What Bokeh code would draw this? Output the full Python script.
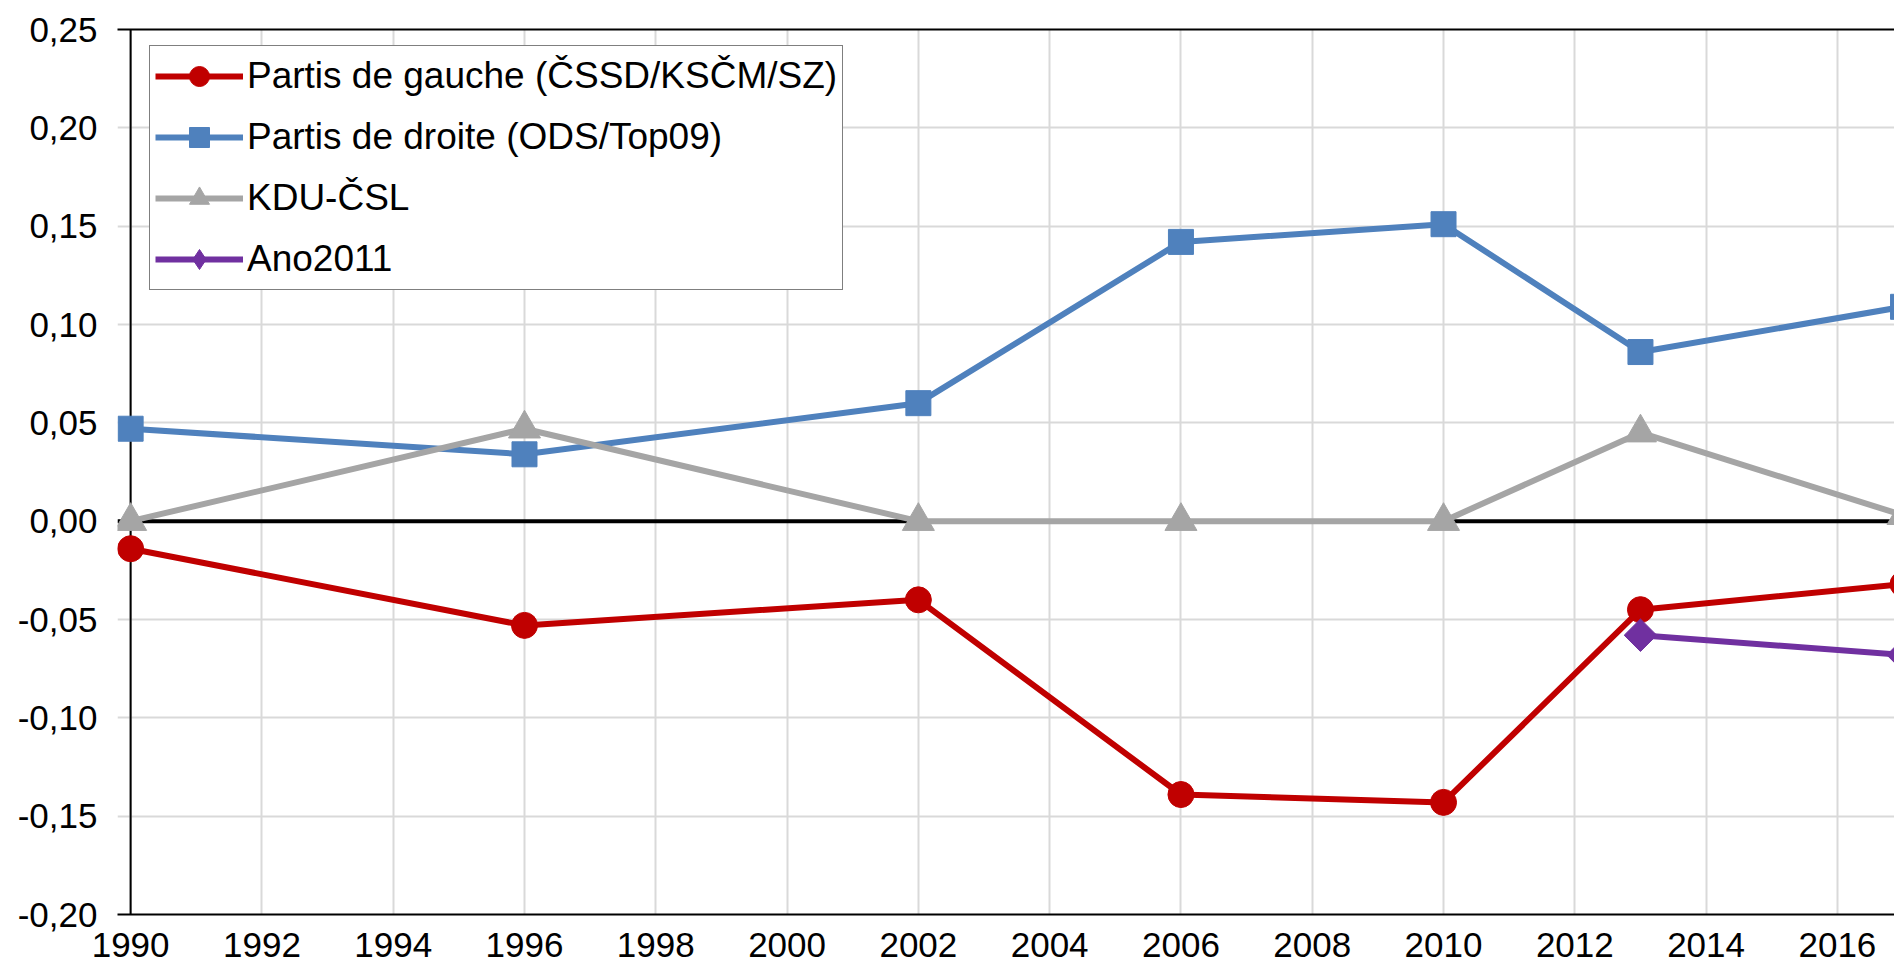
import math
from bokeh.plotting import figure
from bokeh.models import (LinearAxis, FixedTicker, Span, Legend, LegendItem,
                          ColumnDataSource, Range1d)
from bokeh.embed import file_html
from bokeh.resources import INLINE

# ---- data ----
years = [1990, 1996, 2002, 2006, 2010, 2013, 2017]
gauche = [-0.014, -0.053, -0.040, -0.139, -0.143, -0.045, -0.032]
droite = [0.047, 0.034, 0.060, 0.142, 0.151, 0.086, 0.109]
kdu = [0.000, 0.047, 0.000, 0.000, 0.000, 0.045, 0.003]
years_ano = [2013, 2017]
ano = [-0.058, -0.068]

series_names = ["Partis de gauche (ČSSD/KSČM/SZ)", "Partis de droite (ODS/Top09)",
                "KDU-ČSL", "Ano2011"]

x_ticks = [1990, 1992, 1994, 1996, 1998, 2000, 2002, 2004, 2006, 2008, 2010,
           2012, 2014, 2016]
y_ticks = [-0.20, -0.15, -0.10, -0.05, 0.00, 0.05, 0.10, 0.15, 0.20, 0.25]
y_tick_labels = ["-0,20", "-0,15", "-0,10", "-0,05", "0,00", "0,05", "0,10",
                 "0,15", "0,20", "0,25"]

FONT = "Liberation Sans"

p = figure(width=1894, height=976, output_backend="svg", toolbar_location=None,
           x_range=Range1d(1989.80, 2016.87), y_range=Range1d(-0.20, 0.25),
           min_border_left=117, min_border_top=29, min_border_right=0,
           min_border_bottom=62, outline_line_color=None)
p.background_fill_color = "white"

# axes styling
xa = p.xaxis[0]
xa.ticker = FixedTicker(ticks=x_ticks)
xa.major_tick_out = 0
xa.major_tick_in = 0
xa.minor_tick_out = 0
xa.minor_tick_in = 0
xa.major_label_standoff = 18
xa.major_label_text_font = FONT
xa.major_label_text_font_size = "35px"
xa.major_label_text_color = "black"
xa.axis_line_color = "black"
xa.axis_line_width = 2

ya = p.yaxis[0]
ya.ticker = FixedTicker(ticks=y_ticks)
ya.major_label_overrides = {t: l for t, l in zip(y_ticks, y_tick_labels)}
ya.major_tick_out = 0
ya.major_tick_in = 0
ya.minor_tick_out = 0
ya.minor_tick_in = 0
ya.major_label_standoff = 20
ya.major_label_text_font = FONT
ya.major_label_text_font_size = "35px"
ya.major_label_text_color = "black"
ya.axis_line_color = None

top_axis = LinearAxis(major_label_text_font_size="0px", major_tick_out=0,
                      major_tick_in=0, minor_tick_out=0, minor_tick_in=0,
                      major_label_standoff=0, axis_line_color="black",
                      axis_line_width=2, ticker=FixedTicker(ticks=[]))
p.add_layout(top_axis, "above")

p.xgrid.ticker = FixedTicker(ticks=x_ticks)
p.ygrid.ticker = FixedTicker(ticks=y_ticks)
p.xgrid.grid_line_color = "#d9d9d9"
p.ygrid.grid_line_color = "#d9d9d9"
p.xgrid.grid_line_width = 2
p.ygrid.grid_line_width = 2

# y axis line at the first year and the zero line
p.add_layout(Span(location=years[0], dimension="height", line_color="black",
                  line_width=2, level="underlay"))
p.add_layout(Span(location=0, dimension="width", line_color="black",
                  line_width=4, level="underlay"))

src = ColumnDataSource(dict(x=years, gauche=gauche, droite=droite, kdu=kdu))
src_ano = ColumnDataSource(dict(x=years_ano, ano=ano))

# red
l1 = p.line("x", "gauche", source=src, line_color="#C00000", line_width=6)
m1 = p.scatter("x", "gauche", source=src, marker="circle", size=26,
               fill_color="#C00000", line_color="#C00000")
# blue
l2 = p.line("x", "droite", source=src, line_color="#4F81BD", line_width=6)
m2 = p.scatter("x", "droite", source=src, marker="square", size=25,
               fill_color="#4F81BD", line_color="#4F81BD")
# grey
l3 = p.line("x", "kdu", source=src, line_color="#A5A5A5", line_width=6)
m3 = p.scatter("x", "kdu", source=src, marker="triangle", size=32,
               fill_color="#A5A5A5", line_color="#A5A5A5")
# purple
l4 = p.line("x", "ano", source=src_ano, line_color="#7030A0", line_width=6)
m4 = p.scatter("x", "ano", source=src_ano, marker="square", angle=math.pi / 4,
               size=23, fill_color="#7030A0", line_color="#7030A0")
# legend-only diamond (angle is not drawn in legends)
m4_leg = p.scatter("x", "ano", source=src_ano, marker="diamond", size=26,
                   fill_color="#7030A0", line_color="#7030A0", visible=False)

items = []
for name, rs in zip(series_names, [[l1, m1], [l2, m2], [l3, m3], [l4, m4_leg]]):
    items.append(LegendItem(label=name, renderers=rs))

legend = Legend(items=items, location=(32, 624), padding=5, spacing=11,
                glyph_width=88, glyph_height=50, label_standoff=4,
                label_text_font=FONT, label_text_font_size="37px",
                label_text_color="black", border_line_color="black",
                border_line_width=1.5, background_fill_color="white",
                background_fill_alpha=1.0, margin=0)
p.add_layout(legend)

open("out.html", "w").write(file_html(p, INLINE))
